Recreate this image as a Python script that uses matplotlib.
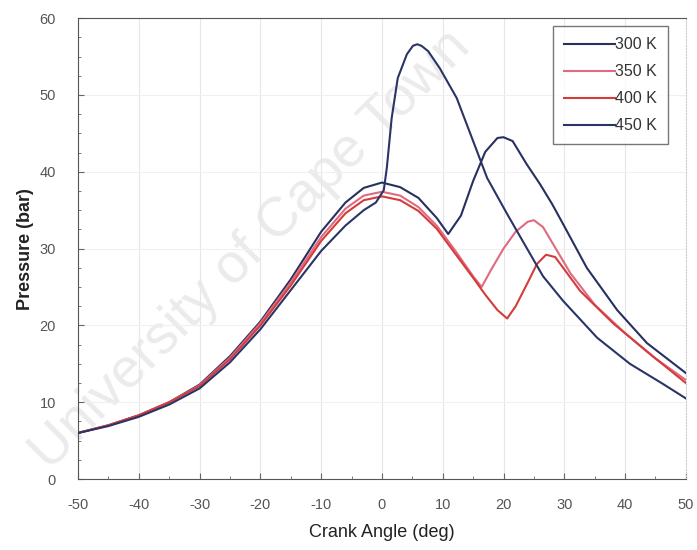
import matplotlib
matplotlib.use("Agg")
import matplotlib.pyplot as plt
from matplotlib.ticker import MultipleLocator

plt.rcParams['font.family'] = ['Liberation Sans', 'DejaVu Sans']
plt.rcParams['axes.unicode_minus'] = False

# crank angle (deg) / pressure (bar)
x_300 = [-50, -45, -40, -35, -30, -25, -20, -15, -10, -6, -3, 0, 3, 6, 9, 10.9,
         13, 15, 17, 19, 20, 21.5, 23.8, 26, 28, 29.8, 33.7, 38.7, 43.6, 50]
p_300 = [6.0, 7.0, 8.3, 10.0, 12.3, 16.0, 20.5, 26.0, 32.2, 36.0, 37.9, 38.6, 38.0, 36.6, 34.0, 31.9,
         34.3, 38.8, 42.6, 44.4, 44.5, 44.0, 41.0, 38.4, 35.8, 33.2, 27.5, 22.0, 17.7, 13.8]

x_350 = [-50, -45, -40, -35, -30, -25, -20, -15, -10, -6, -3, 0, 3, 6, 9, 12, 15, 16.4,
         18, 20, 22, 24, 25, 26.5, 28, 31, 35, 40, 45, 50]
p_350 = [6.0, 7.0, 8.3, 10.0, 12.2, 15.8, 20.3, 25.6, 31.5, 35.2, 36.9, 37.4, 36.9, 35.4, 33.0, 29.8, 26.4, 25.0,
         27.3, 30.0, 32.2, 33.5, 33.7, 32.8, 30.8, 26.8, 22.7, 19.0, 15.7, 12.9]

x_400 = [-50, -45, -40, -35, -30, -25, -20, -15, -10, -6, -3, 0, 3, 6, 9, 12, 15, 17, 19, 20.6,
         22, 24, 25.5, 27, 28.5, 30, 32.6, 38, 43.6, 50]
p_400 = [6.0, 7.0, 8.3, 10.0, 12.1, 15.6, 20.0, 25.2, 31.0, 34.6, 36.3, 36.8, 36.3, 34.9, 32.6, 29.4, 26.2, 24.0, 22.0, 20.9,
         22.5, 25.6, 28.0, 29.2, 28.9, 27.3, 24.5, 20.3, 16.6, 12.5]

x_450 = [-50, -45, -40, -35, -30, -25, -20, -15, -10, -6, -3, -1, 0.3, 0.8, 1.6, 2.6, 4.1, 5.1, 5.8, 6.5,
         7.6, 9.5, 12.3, 15, 17.3, 20.6, 23.8, 26.5, 29.8, 35.4, 40.8, 46.2, 50]
p_450 = [6.0, 6.9, 8.1, 9.7, 11.8, 15.2, 19.5, 24.6, 29.7, 33.0, 35.0, 36.0, 37.6, 40.5, 47.0, 52.2, 55.3, 56.4, 56.6, 56.4,
         55.7, 53.5, 49.6, 44.0, 39.2, 34.5, 30.1, 26.4, 23.2, 18.4, 15.0, 12.4, 10.5]

series = [
    ("300 K", x_300, p_300, "#27305f"),
    ("350 K", x_350, p_350, "#e06a80"),
    ("400 K", x_400, p_400, "#d43c3c"),
    ("450 K", x_450, p_450, "#2a3466"),
]

fig = plt.figure(figsize=(6.97, 5.5), dpi=100)
ax = fig.add_axes([0.112, 0.129, 0.872, 0.838])

# faint watermark seen on the scanned figure, kept behind the plot
fig.text(0.36, 0.545, "University of Cape Town", fontsize=40, color="#ebebeb",
         rotation=45, ha="center", va="center", zorder=-1)
ax.set_facecolor("none")

for label, xs, ps, col in series:
    ax.plot(xs, ps, color=col, linewidth=1.5, label=label, zorder=3)

ax.set_xlim(-50, 50)
ax.set_ylim(0, 60)
ax.xaxis.set_major_locator(MultipleLocator(10))
ax.yaxis.set_major_locator(MultipleLocator(10))
ax.xaxis.set_minor_locator(MultipleLocator(5))
ax.yaxis.set_minor_locator(MultipleLocator(2.5))
ax.tick_params(which="both", direction="in", colors="#666666", labelcolor="#555555",
               labelsize=10.5)
ax.tick_params(which="major", length=4)
ax.tick_params(which="minor", length=2.5)
ax.tick_params(axis="x", pad=14)
ax.tick_params(axis="y", pad=16)

ax.grid(True, which="major", axis="x", color="#e6e6e6", linewidth=0.8)
ax.grid(True, which="major", axis="y", color="#f0f0f0", linewidth=0.8)

for side in ["left", "bottom", "top"]:
    ax.spines[side].set_color("#555555")
ax.spines["right"].set_color("#cccccc")
ax.spines["right"].set_linestyle(":")

ax.set_xlabel("Crank Angle (deg)", fontsize=13, color="#222222", labelpad=8)
ax.set_ylabel("Pressure (bar)", fontsize=13, color="#222222", fontweight="bold", labelpad=4)

leg = ax.legend(loc="upper right", bbox_to_anchor=(0.984, 1.0), fontsize=11.5, frameon=True,
                fancybox=False, edgecolor="#555555", handlelength=3.2, handletextpad=0.0,
                borderpad=0.7, labelspacing=0.75)
leg.get_frame().set_linewidth(1.0)
for t in leg.get_texts():
    t.set_color("#333333")

fig.savefig("out.png", dpi=100)
